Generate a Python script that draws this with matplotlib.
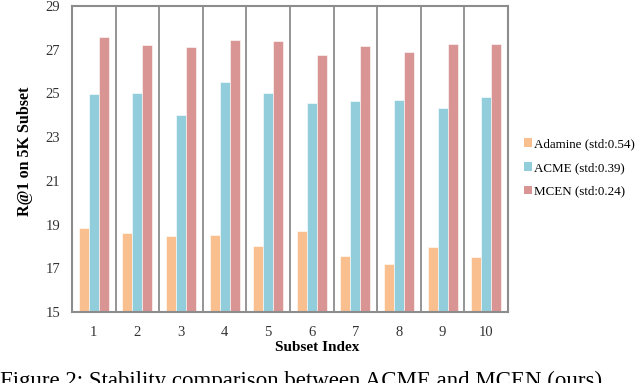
import numpy as np
import matplotlib
matplotlib.use('Agg')
import matplotlib.pyplot as plt
from matplotlib.patches import Patch

# 子集编号与三种方法的 R@1 结果
subsets = ['1', '2', '3', '4', '5', '6', '7', '8', '9', '10']
adamine = [18.86, 18.60, 18.50, 18.52, 18.02, 18.72, 17.55, 17.20, 17.98, 17.52]
acme = [24.97, 25.04, 24.03, 25.52, 25.00, 24.58, 24.64, 24.70, 24.35, 24.84]
mcen = [27.60, 27.20, 27.12, 27.44, 27.41, 26.74, 27.18, 26.88, 27.26, 27.26]
labels = ['Adamine (std:0.54)', 'ACME (std:0.39)', 'MCEN (std:0.24)']
colors = ['#F9BF8F', '#92CDDC', '#D99594']

plt.rcParams['font.family'] = ['Liberation Serif', 'DejaVu Serif']

fig = plt.figure(figsize=(6.4, 3.83), dpi=100)
ax = fig.add_axes([72 / 640, 1 - 312 / 383, 436 / 640, 306 / 383])

x = np.arange(len(subsets))
w = 0.23
for i, (vals, c) in enumerate(zip([adamine, acme, mcen], colors)):
    ax.bar(x + (i - 1) * w, vals, w, color=c, edgecolor='white', linewidth=0.4, zorder=2)

grid_c = '#8C8C8C'
for b in np.arange(0.5, len(subsets) - 1, 1):
    ax.axvline(b, color=grid_c, linewidth=1.3, zorder=1)
for s in ax.spines.values():
    s.set_color(grid_c)
    s.set_linewidth(1.5)

ax.set_xlim(-0.5, len(subsets) - 0.5)
ax.set_ylim(15, 29)
ax.set_yticks(range(15, 30, 2))
ax.set_xticks(x)
ax.set_xticklabels(subsets)
ax.tick_params(length=0, labelsize=10.5, colors='#333333')
ax.tick_params(axis='y', pad=8.5)
ax.tick_params(axis='x', pad=10)
ax.set_xlabel('Subset Index', fontsize=11, fontweight='bold')
ax.xaxis.set_label_coords((317 - 72) / 436, -0.095)
ax.set_ylabel('R@1 on 5K Subset', fontsize=11.5, fontweight='bold')
ax.yaxis.set_label_coords(-0.09, 0.525)

handles = [Patch(facecolor=c, edgecolor='none') for c in colors]
fig.legend(handles, labels, loc='upper left', bbox_to_anchor=(519 / 640, 1 - 133 / 383),
           frameon=False, fontsize=9.4, handlelength=0.6, handleheight=0.6,
           handletextpad=0.15, labelspacing=0.9, borderaxespad=0)

fig.text(0.0, (383 - 387) / 383, 'Figure 2: Stability comparison between ACME and MCEN (ours).',
         fontsize=16.5, ha='left', va='baseline')

fig.savefig('out.png', dpi=100)
